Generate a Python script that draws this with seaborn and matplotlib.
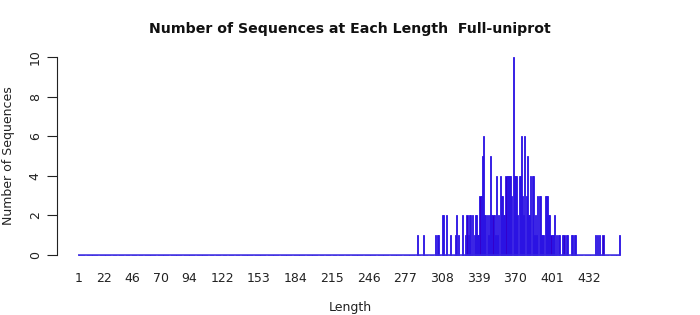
import numpy as np
import pandas as pd
import matplotlib
matplotlib.use("Agg")
import matplotlib.pyplot as plt
import seaborn as sns

# ---- data ----
min_length = 1
max_length = 458
seq_lengths = [287, 292, 302, 304, 305, 308, 309, 312, 315, 319, 320, 322, 325, 328,
               329, 330, 331, 332, 334, 335, 336, 337, 338, 339, 340, 341, 342, 343,
               344, 345, 346, 347, 348, 349, 350, 351, 352, 353, 354, 355, 356, 357,
               358, 359, 360, 361, 362, 363, 364, 365, 366, 367, 368, 369, 370, 371,
               372, 373, 374, 375, 376, 377, 378, 379, 380, 381, 382, 383, 384, 385,
               386, 387, 388, 389, 390, 391, 392, 393, 394, 395, 396, 397, 398, 399,
               400, 401, 402, 403, 405, 406, 407, 410, 411, 413, 414, 417, 418, 420,
               421, 438, 439, 441, 444, 458]
seq_counts = [1, 1, 1, 1, 1, 2, 2, 2, 1, 1, 2, 1, 2, 1,
              2, 1, 2, 2, 2, 1, 2, 2, 1, 1, 3, 3, 5, 6,
              2, 2, 2, 1, 2, 5, 2, 2, 2, 1, 4, 1, 2, 4,
              3, 3, 2, 2, 4, 4, 4, 4, 4, 3, 10, 4, 4, 4,
              2, 4, 4, 6, 3, 2, 6, 3, 5, 2, 2, 4, 4, 4,
              1, 2, 1, 3, 3, 3, 1, 1, 1, 3, 3, 3, 2, 2,
              1, 1, 1, 2, 1, 1, 1, 1, 1, 1, 1, 1, 1, 1,
              1, 1, 1, 1, 1, 1]
tick_labels = [1, 22, 46, 70, 94, 122, 153, 184, 215, 246, 277, 308, 339, 370, 401, 432]
y_ticks = [0, 2, 4, 6, 8, 10]
title = "Number of Sequences at Each Length  Full-uniprot"
x_label = "Length"
y_label = "Number of Sequences"

# build full table (zero for lengths with no sequences)
all_lengths = list(range(min_length, max_length + 1))
count_map = dict(zip(seq_lengths, seq_counts))
df = pd.DataFrame({"Length": all_lengths,
                   "Count": [count_map.get(l, 0) for l in all_lengths]})

sns.set_style("white")
plt.rcParams["font.family"] = ["DejaVu Sans"]

fig = plt.figure(figsize=(7, 3.15), dpi=100)
ax = fig.add_axes([57 / 700, (315 - 255) / 315, (643 - 57) / 700, (255 - 57) / 315])

sns.barplot(data=df, x="Length", y="Count", ax=ax, color="#3300cc",
            saturation=1, width=0.9, edgecolor="#2a14e6", linewidth=0.6,
            errorbar=None)
for p in ax.patches:
    p.set_clip_on(False)

# baseline drawn by the zero-height bars in the reference
ax.hlines(0, -0.5, len(all_lengths) - 0.5, color="#3a2ae0", linewidth=1.1,
          clip_on=False, zorder=3)

ax.set_xlim(-18.6, 476.8)
ax.set_ylim(0, 10)

ax.set_xticks([all_lengths.index(t) for t in tick_labels])
ax.set_xticklabels([str(t) for t in tick_labels], fontsize=9, color="#222222")
ax.tick_params(axis="x", length=0, pad=12)

ax.set_yticks(y_ticks)
ax.set_yticklabels([str(t) for t in y_ticks], fontsize=9, rotation=90,
                   va="center", color="#222222")
ax.tick_params(axis="y", length=7, width=0.8, color="#222222", pad=4, left=True)

for s in ["top", "right", "bottom"]:
    ax.spines[s].set_visible(False)
ax.spines["left"].set_color("#222222")
ax.spines["left"].set_linewidth(0.8)

ax.set_xlabel("")
ax.set_ylabel("")
fig.text(350 / 700, 1 - 308 / 315, x_label, ha="center", va="center",
         fontsize=9, color="#222222")
fig.text(9 / 700, 1 - 156 / 315, y_label, ha="center", va="center",
         rotation=90, fontsize=9, color="#222222")
fig.text(0.5, 1 - 29 / 315, title, ha="center", va="center",
         fontsize=10.2, fontweight="bold", color="#111111")

fig.savefig("out.png", dpi=100)
